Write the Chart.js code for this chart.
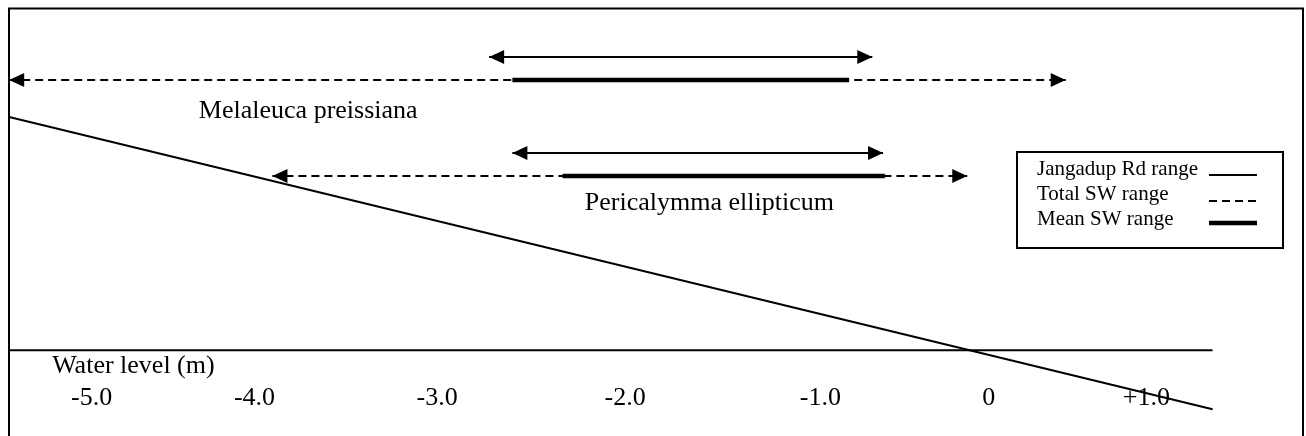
<!DOCTYPE html>
<html><head><meta charset="utf-8">
<script src="https://cdn.jsdelivr.net/npm/chart.js@4.4.1/dist/chart.umd.min.js"></script>
<style>html,body{margin:0;padding:0;background:#fff}#wrap{width:1306px;height:436px;position:relative}</style>
</head><body><div id="wrap"><canvas id="c"></canvas></div>
<script>
// ---- data ----
const species = ['Melaleuca preissiana', 'Pericalymma ellipticum'];
const jangadupMin = [-2.75, -2.62];
const jangadupMax = [-0.61, -0.55];
const totalMin = [-5.43, -3.96];
const totalMax = [0.47, -0.08];
const meanMin = [-2.62, -2.34];
const meanMax = [-0.74, -0.54];
const jangadupRow = [29.3, 19.7];
const swRow = [27.0, 17.4];
const gradientX = [-5.43, 1.29];
const gradientY = [23.3, -5.9];
const groundX = [-5.43, 1.29];
const groundY = [0, 0];
const tickValues = [-4.97, -4.06, -3.04, -1.99, -0.90, 0.04, 0.92];
const tickLabels = ['-5.0', '-4.0', '-3.0', '-2.0', '-1.0', '0', '+1.0'];
const legendLabels = ['Jangadup Rd range', 'Total SW range', 'Mean SW range'];
const axisTitle = 'Water level (m)';

const FONT = "'Liberation Serif', 'Times New Roman', serif";
Chart.defaults.font.family = FONT;
Chart.defaults.color = '#000';

const base = { showLine: true, pointRadius: 0, pointHoverRadius: 0, borderColor: '#000', backgroundColor: '#000', fill: false, tension: 0, clip: false };
const seg = (x0, x1, y) => [{ x: x0, y: y }, { x: x1, y: y }];

const datasets = [];
species.forEach((sp, i) => {
  datasets.push(Object.assign({}, base, { label: legendLabels[0], data: seg(jangadupMin[i], jangadupMax[i], jangadupRow[i]), borderWidth: 2, arrows: true, order: 1 }));
  datasets.push(Object.assign({}, base, { label: legendLabels[2], data: seg(meanMin[i], meanMax[i], swRow[i]), borderWidth: 4.5, order: 0 }));
  datasets.push(Object.assign({}, base, { label: legendLabels[1], data: seg(totalMin[i], totalMax[i], swRow[i]), borderWidth: 2, borderDash: [8, 5], arrows: true, order: 2 }));
});
datasets.push(Object.assign({}, base, { label: 'gradient', data: gradientX.map((x, i) => ({ x: x, y: gradientY[i] })), borderWidth: 2, order: 3 }));
datasets.push(Object.assign({}, base, { label: 'ground', data: groundX.map((x, i) => ({ x: x, y: groundY[i] })), borderWidth: 2, order: 3 }));

function drawHead(ctx, tipX, tipY, fromX, fromY) {
  const ang = Math.atan2(tipY - fromY, tipX - fromX), L = 15, W = 7;
  ctx.save();
  ctx.translate(tipX, tipY); ctx.rotate(ang);
  ctx.beginPath(); ctx.moveTo(0, 0); ctx.lineTo(-L, -W); ctx.lineTo(-L, W); ctx.closePath();
  ctx.fillStyle = '#000'; ctx.fill();
  ctx.restore();
}

const deco = {
  id: 'deco',
  beforeDraw(chart) {
    const ctx = chart.ctx;
    ctx.save(); ctx.fillStyle = '#fff'; ctx.fillRect(0, 0, chart.width, chart.height); ctx.restore();
  },
  afterDatasetsDraw(chart, args, opts) {
    const ctx = chart.ctx, xs = chart.scales.x, ys = chart.scales.y;
    chart.data.datasets.forEach((ds, i) => {
      if (!ds.arrows) return;
      const pts = chart.getDatasetMeta(i).data;
      const a = pts[0], b = pts[pts.length - 1];
      drawHead(ctx, b.x, b.y, a.x, a.y);
      drawHead(ctx, a.x, a.y, b.x, b.y);
    });
    ctx.save();
    ctx.fillStyle = '#000';
    ctx.font = '26px ' + FONT;
    ctx.textBaseline = 'alphabetic';
    ctx.textAlign = 'center';
    species.forEach((sp, i) => {
      const p = opts.speciesLabelPos[i];
      ctx.fillText(sp, xs.getPixelForValue(p.x), ys.getPixelForValue(p.y));
    });
    ctx.textAlign = 'left';
    ctx.fillText(axisTitle, xs.getPixelForValue(opts.titlePos.x), ys.getPixelForValue(opts.titlePos.y));
    ctx.restore();
  },
  afterDraw(chart) {
    const ctx = chart.ctx, ca = chart.chartArea;
    ctx.save();
    ctx.strokeStyle = '#000'; ctx.lineWidth = 2;
    ctx.beginPath();
    ctx.moveTo(ca.left, chart.height + 2); ctx.lineTo(ca.left, ca.top + 0.5);
    ctx.lineTo(ca.right, ca.top + 0.5); ctx.lineTo(ca.right, chart.height + 2);
    ctx.stroke();
    // legend box
    const bx = ca.right - 286, by = ca.top + 144, bw = 266, bh = 96;
    ctx.strokeRect(bx, by, bw, bh);
    ctx.fillStyle = '#000';
    ctx.font = '21px ' + FONT;
    ctx.textAlign = 'left'; ctx.textBaseline = 'alphabetic';
    const styles = [{ w: 2, d: [] }, { w: 2, d: [8, 5] }, { w: 4.5, d: [] }];
    const sy = [23, 49, 71];
    legendLabels.forEach((lab, i) => {
      ctx.fillText(lab, bx + 20, by + 23 + 25 * i);
      ctx.lineWidth = styles[i].w; ctx.setLineDash(styles[i].d);
      ctx.beginPath(); ctx.moveTo(bx + 192, by + sy[i]); ctx.lineTo(bx + 240, by + sy[i]); ctx.stroke();
    });
    ctx.setLineDash([]);
    ctx.restore();
  }
};

new Chart(document.getElementById('c'), {
  type: 'scatter',
  data: { datasets: datasets },
  plugins: [deco],
  options: {
    responsive: true, maintainAspectRatio: false, animation: false, events: [],
    layout: { padding: { left: 9, right: 3, top: 8, bottom: 17 } },
    plugins: {
      legend: { display: false }, tooltip: { enabled: false },
      deco: { speciesLabelPos: [{ x: -3.76, y: 23.2 }, { x: -1.52, y: 14.0 }], titlePos: { x: -5.19, y: -2.3 } }
    },
    scales: {
      x: {
        type: 'linear', min: -5.431, max: 1.795,
        afterBuildTicks: s => { s.ticks = tickValues.map(v => ({ value: v })); },
        ticks: { autoSkip: false, maxRotation: 0, minRotation: 0, color: '#000', padding: 5, font: { size: 26, family: FONT }, callback: (v, i) => tickLabels[i] },
        grid: { display: false, drawTicks: false, tickLength: 0 },
        border: { display: false }
      },
      y: { type: 'linear', display: false, min: -2.76, max: 34.2 }
    }
  }
});
</script>
</body></html>
